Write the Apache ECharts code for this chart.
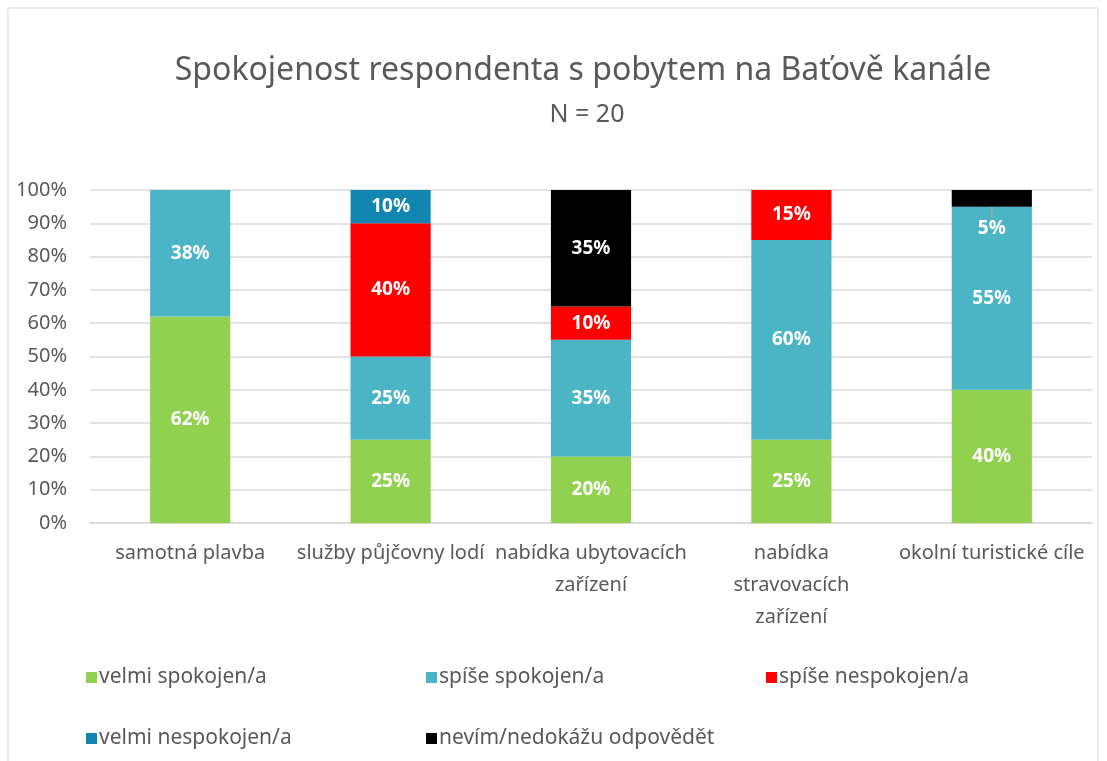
<!DOCTYPE html>
<html>
<head>
<meta charset="utf-8">
<script src="https://cdn.jsdelivr.net/npm/echarts@6/dist/echarts.min.js"></script>
<style>
  html, body { margin: 0; padding: 0; background: #fff; }
  #chart { width: 1107px; height: 761px; }
</style>
</head>
<body>
<div id="chart"></div>
<script>
// Categories (survey items)
const categories = [
  'samotná plavba',
  'služby půjčovny lodí',
  'nabídka ubytovacích zařízení',
  'nabídka stravovacích zařízení',
  'okolní turistické cíle'
];
// Axis label line breaks for the wrapped categories
const categoryLabels = [
  'samotná plavba',
  'služby půjčovny lodí',
  'nabídka ubytovacích\nzařízení',
  'nabídka\nstravovacích\nzařízení',
  'okolní turistické cíle'
];

// Shares in percent per answer
const velmiSpokojen    = [62, 25, 20, 25, 40];
const spiseSpokojen    = [38, 25, 35, 60, 55];
const spiseNespokojen  = [0, 40, 10, 15, 0];
const velmiNespokojen  = [0, 10, 0, 0, 0];
const nevim            = [0, 0, 35, 0, 5];

const yTicks = [0, 10, 20, 30, 40, 50, 60, 70, 80, 90, 100];

const seriesNames = [
  'velmi spokojen/a',
  'spíše spokojen/a',
  'spíše nespokojen/a',
  'velmi nespokojen/a',
  'nevím/nedokážu odpovědět'
];
const seriesData = [velmiSpokojen, spiseSpokojen, spiseNespokojen, velmiNespokojen, nevim];
const colors = ['#92D050', '#4BB5C6', '#FF0000', '#1286B0', '#000000'];

const FONT = 'Noto Sans';

const chart = echarts.init(document.getElementById('chart'));

const series = seriesNames.map((name, i) => {
  const s = {
    name: name,
    type: 'bar',
    stack: 'total',
    barWidth: '40%',
    itemStyle: { color: colors[i] },
    data: seriesData[i].map((v, j) => (
      // leader line only for the thin top segment of the last bar
      i === 4 && j === 4 ? { value: v, labelLine: { show: true } } : v
    )),
    label: {
      show: true,
      formatter: p => (p.value > 0 ? p.value + '%' : ''),
      color: '#FFFFFF',
      fontFamily: FONT,
      fontWeight: 'bold',
      fontSize: 19
    }
  };
  if (i === 4) {
    // thin top segment: pull its label down into the bar below
    s.z = 3;
    s.labelLayout = p => (p.dataIndex === 4 ? { dy: 30 } : {});
    s.labelLine = { show: false, showAbove: true, length2: 6, lineStyle: { color: '#A6A6A6', width: 1.5 } };
  }
  return s;
});

// one legend per item, laid out on a fixed grid of two rows
const legendPos = [[86, 667], [426, 667], [766, 667], [86, 728], [426, 728]];
const legends = seriesNames.map((name, i) => ({
  data: [name],
  left: legendPos[i][0],
  top: legendPos[i][1],
  padding: 0,
  itemWidth: 11,
  itemHeight: 11,
  itemGap: 4,
  icon: 'rect',
  textStyle: { color: '#595959', fontFamily: FONT, fontSize: 21, padding: [0, 0, 0, -3] },
  selectedMode: false
}));

chart.setOption({
  animation: false,
  backgroundColor: '#FFFFFF',
  title: [
    {
      text: 'Spokojenost respondenta s pobytem na Baťově kanále',
      left: 583,
      top: 55,
      padding: 0,
      textAlign: 'center',
      textStyle: { color: '#595959', fontFamily: FONT, fontSize: 32, fontWeight: 'normal' }
    },
    {
      text: 'N = 20',
      left: 587,
      top: 102,
      padding: 0,
      textAlign: 'center',
      textStyle: { color: '#595959', fontFamily: FONT, fontSize: 25, fontWeight: 'normal' }
    }
  ],
  legend: legends,
  grid: { left: 90, right: 15, top: 190, bottom: 238, containLabel: false },
  xAxis: {
    type: 'category',
    data: categories,
    axisTick: { show: false },
    axisLine: { show: true, lineStyle: { color: '#D9D9D9', width: 1.5 } },
    axisLabel: {
      color: '#595959',
      fontFamily: FONT,
      fontSize: 20,
      margin: 14,
      lineHeight: 32,
      interval: 0,
      formatter: (v, idx) => categoryLabels[idx]
    }
  },
  yAxis: {
    type: 'value',
    min: 0,
    max: 100,
    interval: 10,
    axisLine: { show: false },
    axisTick: { show: false },
    splitLine: { lineStyle: { color: '#D9D9D9', width: 1.5 } },
    axisLabel: {
      color: '#595959',
      fontFamily: FONT,
      fontSize: 20,
      margin: 23,
      formatter: v => (yTicks.indexOf(v) >= 0 ? v + '%' : '')
    }
  },
  graphic: [
    {
      type: 'rect',
      shape: { x: 8, y: 8, width: 1090, height: 770 },
      style: { fill: 'none', stroke: '#D9D9D9', lineWidth: 1 },
      silent: true,
      z: -1
    }
  ],
  series: series
});
</script>
</body>
</html>
